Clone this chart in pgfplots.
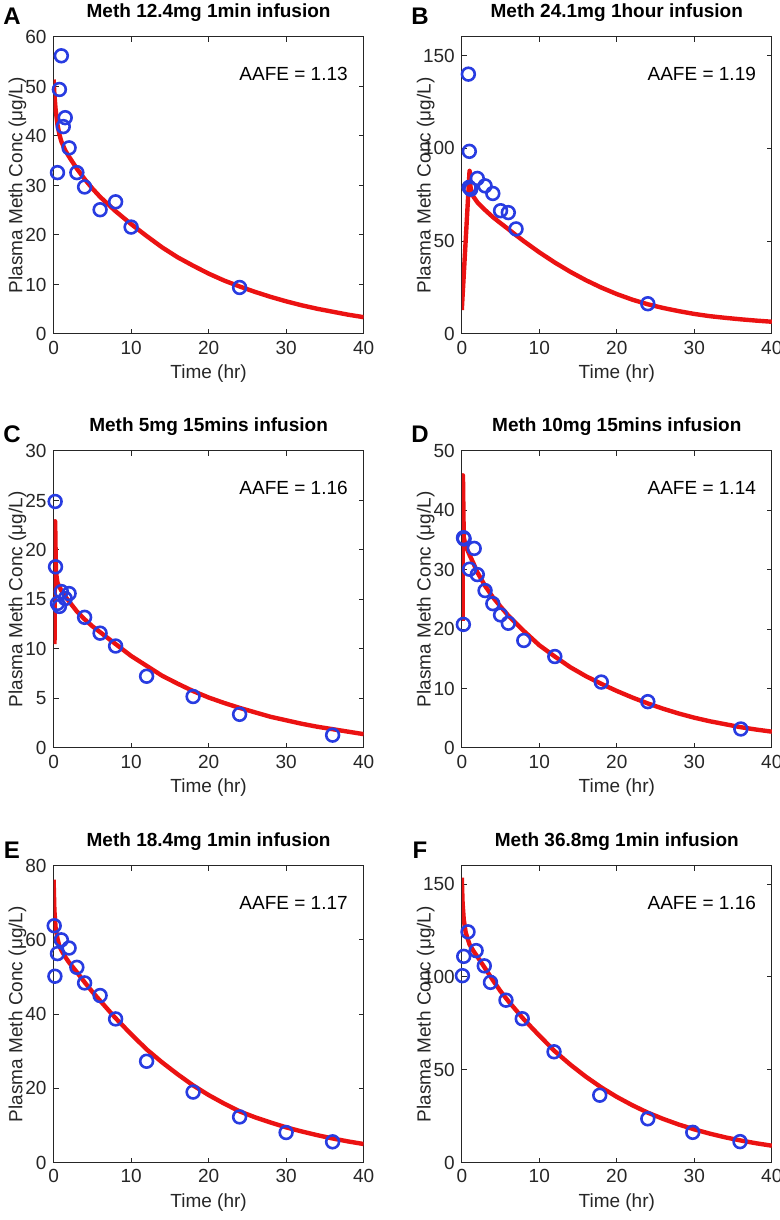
\documentclass[border=0pt]{standalone}
\usepackage{pgfplots}
\pgfplotsset{compat=1.18}
\usepackage{fontspec}
\setmainfont{Liberation Sans}
\definecolor{mred}{RGB}{235,18,18}
\definecolor{mblue}{RGB}{40,60,225}
\definecolor{axgray}{RGB}{38,38,38}
\newcommand{\fs}{\fontsize{9.5}{11}\selectfont}
\pgfplotsset{
 mstyle/.style={
  scale only axis, width=155pt, height=148.5pt,
  xmin=0, xmax=40, ymin=0, xtick={0,10,20,30,40},
  tick align=inside, xtick pos=both, ytick pos=both,
  major tick length=2.5pt,
  axis line style={axgray, line width=0.5pt},
  every tick/.style={axgray, line width=0.5pt},
  tick label style={font=\fs, text=axgray},
  /pgf/number format/assume math mode=true,
  xlabel={Time (hr)},
  ylabel={Plasma Meth Conc (μg/L)},
  xlabel style={font=\fs, text=axgray, at={([yshift=-22.5pt]axis description cs:0.5,0)}, anchor=base},
  ylabel style={font=\fs, text=axgray, at={([xshift=-15.6pt]axis description cs:0,0.5)}, anchor=base},
  every axis title/.style={font=\bfseries\fs, at={([yshift=9.5pt]axis description cs:0.5,1)}, anchor=base},
 },
 curve/.style={mred, line width=2.2pt, no marks, line join=round},
 pts/.style={only marks, mark=o, mark size=3.2pt, mark options={mblue, line width=1.3pt}},
}
\newcommand{\aafe}[1]{\node[anchor=east, font=\fs, inner sep=0pt] at (rel axis cs:0.95,0.875) {AAFE = #1};}
\begin{document}
\begin{tikzpicture}[x=1pt,y=1pt]
\path[use as bounding box] (0,0) rectangle (390,610);
\node[font=\bfseries\fontsize{12}{14}\selectfont] at (6,602) {A};
\node[font=\bfseries\fontsize{12}{14}\selectfont] at (210,602) {B};
\node[font=\bfseries\fontsize{12}{14}\selectfont] at (6,393) {C};
\node[font=\bfseries\fontsize{12}{14}\selectfont] at (210,393) {D};
\node[font=\bfseries\fontsize{12}{14}\selectfont] at (6,185) {E};
\node[font=\bfseries\fontsize{12}{14}\selectfont] at (210,185) {F};
% A
\begin{axis}[mstyle, at={(26.8pt,443pt)}, anchor=south west, ymax=60, ytick={0,10,20,30,40,50,60}, title={Meth 12.4mg 1min infusion}]
\addplot[curve] table {
0 51.4
0.1 48.5
0.25 45.5
0.5 42.3
0.75 40.3
1 38.9
1.5 37.1
2 35.8
3 33.4
4 31.3
5 29.4
6 27.7
8 24.8
10 22.2
12 19.8
14 17.5
16 15.5
18 13.8
20 12.2
22 10.8
24 9.6
26 8.5
28 7.5
30 6.6
32 5.8
34 5.1
36 4.5
38 3.9
40 3.4
};
\addplot[pts] table {
0.5 32.6
0.75 49.4
1 56.2
1.25 41.9
1.5 43.7
2 37.6
3 32.6
4 29.7
6 25.1
8 26.7
10 21.6
24 9.4
};
\aafe{1.13}
\end{axis}
% B
\begin{axis}[mstyle, at={(230.9pt,443pt)}, anchor=south west, ymax=160, ytick={0,50,100,150}, title={Meth 24.1mg 1hour infusion}]
\addplot[curve] table {
0 12.9
1 87.9
1.1 80
1.25 76.5
1.5 74
2 71
3 66.8
4 63
5 59.7
6 56.5
7 53.2
8 50
10 44
12 38.5
14 33.5
16 29
18 25
20 21.5
22 18.5
24 16
26 14
28 12.3
30 10.8
32 9.6
34 8.7
36 7.9
38 7.2
40 6.6
};
\addplot[pts] table {
0.85 140
0.97 98.4
0.95 79
1.15 78
2 83.8
3 79.8
4 75.7
5 66.4
6 65.4
7 56.6
24 16.3
};
\aafe{1.19}
\end{axis}
% C
\begin{axis}[mstyle, at={(26.8pt,236pt)}, anchor=south west, ymax=30, ytick={0,5,10,15,20,25,30}, title={Meth 5mg 15mins infusion}]
\addplot[curve] table {
0.12 10.5
0.2 22.9
0.3 17.8
0.5 16.7
1 15.9
1.5 15.3
2 14.8
3 13.8
4 13.0
5 12.3
6 11.7
8 10.5
10 9.3
12 8.3
14 7.3
16 6.5
18 5.75
20 5.1
22 4.55
24 4.05
26 3.6
28 3.15
30 2.8
32 2.45
34 2.15
36 1.9
38 1.65
40 1.4
};
\addplot[pts] table {
0.2 24.9
0.25 18.3
0.5 14.6
0.75 14.3
1 15.8
1.5 15.1
2 15.6
4 13.2
6 11.6
8 10.3
12 7.25
18 5.2
24 3.4
36 1.3
};
\aafe{1.16}
\end{axis}
% D
\begin{axis}[mstyle, at={(230.9pt,236pt)}, anchor=south west, ymax=50, ytick={0,10,20,30,40,50}, title={Meth 10mg 15mins infusion}]
\addplot[curve] table {
0.1 21.4
0.15 45.9
0.25 35.5
0.5 34.0
1 32.5
1.5 31.1
2 29.6
3 27.3
4 25.4
5 23.8
6 22.3
8 19.7
10 17.3
12 15.4
14 13.6
16 12.1
18 10.8
20 9.6
22 8.5
24 7.5
26 6.6
28 5.8
30 5.1
32 4.5
34 4.0
36 3.5
38 3.1
40 2.75
};
\addplot[pts] table {
0.2 20.8
0.22 35.4
0.3 35.2
1 30.1
1.6 33.6
2 29.2
3 26.5
4 24.3
5 22.4
6 21.0
8 18.1
12 15.4
18 11.1
24 7.8
36 3.2
};
\aafe{1.14}
\end{axis}
% E
\begin{axis}[mstyle, at={(26.8pt,28.7pt)}, anchor=south west, ymax=80, ytick={0,20,40,60,80}, title={Meth 18.4mg 1min infusion}]
\addplot[curve] table {
0 76.2
0.1 68
0.25 63.5
0.5 60.3
0.75 58.3
1 57.2
1.5 55.4
2 53.9
3 51.3
4 48.6
5 46.0
6 43.6
8 38.9
10 34.6
12 30.5
14 27.0
16 23.8
18 20.8
20 18.2
22 15.9
24 13.8
26 12.2
28 10.8
30 9.5
32 8.4
34 7.4
36 6.5
38 5.7
40 5.0
};
\addplot[pts] table {
0.08 63.8
0.17 50.2
0.5 56.3
1 60.0
2 57.8
3 52.6
4 48.4
6 45.0
8 38.7
12 27.3
18 19.0
24 12.3
30 8.1
36 5.6
};
\aafe{1.17}
\end{axis}
% F
\begin{axis}[mstyle, at={(230.9pt,28.7pt)}, anchor=south west, ymax=160, ytick={0,50,100,150}, title={Meth 36.8mg 1min infusion}]
\addplot[curve] table {
0 153.5
0.1 140
0.25 131
0.5 124
1 117.5
1.5 114
2 111
3 104.7
4 98.3
5 92.3
6 87.0
8 77.2
10 68.4
12 60.0
14 52.8
16 46.3
18 40.5
20 35.4
22 30.9
24 26.9
26 23.5
28 20.5
30 17.9
32 15.6
34 13.6
36 11.9
38 10.4
40 9.1
};
\addplot[pts] table {
0.08 100.7
0.25 111.1
0.8 124.3
1.85 114.2
2.9 106.0
3.7 97.1
5.7 87.5
7.8 77.5
11.9 59.7
17.8 36.3
24 23.6
29.8 16.3
35.9 11.3
};
\aafe{1.16}
\end{axis}
\end{tikzpicture}
\end{document}
